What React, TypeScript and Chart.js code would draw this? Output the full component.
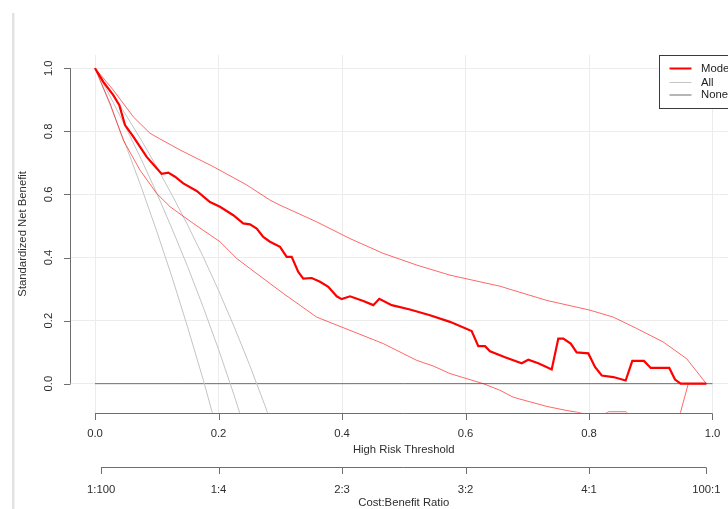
import React, { useEffect, useRef } from "react";
import { Chart, registerables } from "chart.js";

Chart.register(...registerables);

// ---- data ----
const modelX = [0, 0.0134, 0.0296, 0.0394, 0.0486, 0.062, 0.0837, 0.0999, 0.108, 0.1187, 0.1296, 0.143, 0.1647, 0.1862, 0.2024, 0.224, 0.24, 0.251, 0.2619, 0.2725, 0.2834, 0.2996, 0.3104, 0.3185, 0.3292, 0.3373, 0.351, 0.3644, 0.3778, 0.3914, 0.3995, 0.413, 0.4345, 0.4507, 0.4604, 0.4805, 0.51, 0.5425, 0.5749, 0.61, 0.6207, 0.6316, 0.6397, 0.664, 0.691, 0.7017, 0.7179, 0.7396, 0.7503, 0.7584, 0.7704, 0.78, 0.7989, 0.8097, 0.8206, 0.8393, 0.8594, 0.8701, 0.889, 0.9, 0.93, 0.9393, 0.9485, 0.99];
const modelY = [1, 0.957, 0.915, 0.883, 0.82, 0.783, 0.719, 0.683, 0.665, 0.669, 0.656, 0.635, 0.611, 0.576, 0.561, 0.534, 0.508, 0.505, 0.492, 0.465, 0.45, 0.434, 0.402, 0.402, 0.354, 0.333, 0.335, 0.323, 0.307, 0.277, 0.268, 0.277, 0.262, 0.249, 0.269, 0.249, 0.235, 0.217, 0.196, 0.167, 0.119, 0.119, 0.1025, 0.084, 0.065, 0.076, 0.065, 0.045, 0.143, 0.143, 0.127, 0.099, 0.096, 0.053, 0.026, 0.021, 0.01, 0.072, 0.072, 0.05, 0.05, 0.013, 0, 0];

const upperX = [0, 0.0296, 0.062, 0.089, 0.105, 0.1377, 0.1916, 0.2457, 0.2834, 0.2996, 0.359, 0.413, 0.4669, 0.521, 0.5749, 0.6235, 0.6559, 0.6774, 0.7315, 0.8016, 0.8393, 0.8773, 0.9203, 0.9582, 0.99];
const upperY = [1, 0.931, 0.846, 0.794, 0.776, 0.741, 0.688, 0.63, 0.582, 0.566, 0.513, 0.46, 0.413, 0.376, 0.344, 0.323, 0.309, 0.296, 0.264, 0.233, 0.211, 0.175, 0.132, 0.079, 0];

const lowerX = [0, 0.0243, 0.0458, 0.0729, 0.0999, 0.1215, 0.1592, 0.2024, 0.2295, 0.251, 0.305, 0.359, 0.413, 0.4669, 0.521, 0.5478, 0.5749, 0.6288, 0.6559, 0.6774, 0.7315, 0.7639, 0.7854, 0.81, 0.832, 0.86, 0.875, 0.94, 0.9608, 0.99];
const lowerY = [1, 0.889, 0.772, 0.677, 0.603, 0.561, 0.508, 0.45, 0.397, 0.365, 0.286, 0.211, 0.169, 0.127, 0.074, 0.056, 0.032, 0, -0.021, -0.043, -0.072, -0.085, -0.092, -0.11, -0.089, -0.089, -0.12, -0.15, 0, 0];

const allX = [0, 0.025, 0.05, 0.075, 0.1, 0.125, 0.15, 0.175, 0.2, 0.225, 0.25, 0.275, 0.3];
const allLowY = [1, 0.881, 0.755, 0.623, 0.483, 0.336, 0.179, 0.014, -0.163];
const allMidY = [1, 0.909, 0.812, 0.711, 0.604, 0.49, 0.371, 0.244, 0.109, -0.035, -0.189];
const allHighY = [1, 0.928, 0.852, 0.772, 0.687, 0.597, 0.503, 0.403, 0.296, 0.182, 0.061, -0.068, -0.207];

const noneX = [0, 1];
const noneY = [0, 0];

const xTicks = [0, 0.2, 0.4, 0.6, 0.8, 1.0];
const xTickLabels = ["0.0", "0.2", "0.4", "0.6", "0.8", "1.0"];
const yTicks = [0, 0.2, 0.4, 0.6, 0.8, 1.0];
const yTickLabels = ["0.0", "0.2", "0.4", "0.6", "0.8", "1.0"];
const costTicks = [0.0099, 0.2, 0.4, 0.6, 0.8, 0.99];
const costLabels = ["1:100", "1:4", "2:3", "3:2", "4:1", "100:1"];

const legendNames = ["Model", "All", "None"];

const RED = "#ff0000";
const RED_CI = "rgba(255,0,0,0.6)";
const GRAY_ALL = "#c4c4c4";
const GRAY_NONE = "#6e6e6e";
const AXIS = "#6e6e6e";
const TEXT = "#2e2e2e";
const FONT = '11.3px "Liberation Sans", Arial, sans-serif';

const pts = (xs: number[], ys: number[]) => ys.map((y, i) => ({ x: xs[i], y }));

const axesPlugin = {
  id: "rAxes",
  afterDraw(chart: any) {
    const ctx = chart.ctx as CanvasRenderingContext2D;
    const xs = chart.scales.x;
    const ys = chart.scales.y;
    const area = chart.chartArea;
    ctx.save();
    // frame strip on the left
    ctx.fillStyle = "#e3e3e3";
    ctx.fillRect(12, 13, 2.5, 509);

    ctx.strokeStyle = AXIS;
    ctx.lineWidth = 1;
    ctx.fillStyle = TEXT;
    ctx.font = FONT;

    // bottom x axis
    const yAx = Math.round(area.bottom) + 0.5;
    const x0 = xs.getPixelForValue(xTicks[0]);
    const x1 = xs.getPixelForValue(xTicks[xTicks.length - 1]);
    ctx.beginPath();
    ctx.moveTo(x0, yAx);
    ctx.lineTo(x1, yAx);
    xTicks.forEach((v) => {
      const px = Math.round(xs.getPixelForValue(v)) + 0.5;
      ctx.moveTo(px, yAx);
      ctx.lineTo(px, yAx + 6.5);
    });
    ctx.stroke();
    ctx.textAlign = "center";
    ctx.textBaseline = "middle";
    xTicks.forEach((v, i) => {
      ctx.fillText(xTickLabels[i], xs.getPixelForValue(v), yAx + 20.5);
    });
    const midX = (area.left + area.right) / 2;
    ctx.fillText("High Risk Threshold", midX, yAx + 36.5);

    // cost:benefit axis
    const yCb = yAx + 54;
    const c0 = xs.getPixelForValue(costTicks[0]);
    const c1 = xs.getPixelForValue(costTicks[costTicks.length - 1]);
    ctx.beginPath();
    ctx.moveTo(c0, yCb);
    ctx.lineTo(c1, yCb);
    costTicks.forEach((v) => {
      const px = Math.round(xs.getPixelForValue(v)) + 0.5;
      ctx.moveTo(px, yCb);
      ctx.lineTo(px, yCb + 6.5);
    });
    ctx.stroke();
    costTicks.forEach((v, i) => {
      ctx.fillText(costLabels[i], xs.getPixelForValue(v), yCb + 22);
    });
    ctx.fillText("Cost:Benefit Ratio", midX, yCb + 35.5);

    // y axis
    const xAx = Math.round(area.left) + 0.5;
    const yTop = ys.getPixelForValue(yTicks[yTicks.length - 1]);
    const yBot = ys.getPixelForValue(yTicks[0]);
    ctx.beginPath();
    ctx.moveTo(xAx, yTop);
    ctx.lineTo(xAx, yBot);
    yTicks.forEach((v) => {
      const py = Math.round(ys.getPixelForValue(v)) + 0.5;
      ctx.moveTo(xAx, py);
      ctx.lineTo(xAx - 6.5, py);
    });
    ctx.stroke();
    yTicks.forEach((v, i) => {
      ctx.save();
      ctx.translate(xAx - 21.5, ys.getPixelForValue(v));
      ctx.rotate(-Math.PI / 2);
      ctx.fillText(yTickLabels[i], 0, 0);
      ctx.restore();
    });
    ctx.save();
    ctx.translate(22.5, (area.top + area.bottom) / 2);
    ctx.rotate(-Math.PI / 2);
    ctx.fillText("Standardized Net Benefit", 0, 0);
    ctx.restore();

    // legend
    const lx = 659.5;
    const ly = Math.round(area.top) + 0.5;
    ctx.fillStyle = "#ffffff";
    ctx.fillRect(lx, ly, 120, 53);
    ctx.strokeStyle = "#3a3a3a";
    ctx.strokeRect(lx, ly, 120, 53);
    const rows = [
      { c: RED, w: 2, y: ly + 13 },
      { c: GRAY_ALL, w: 1, y: ly + 27 },
      { c: GRAY_NONE, w: 1, y: ly + 39.5 },
    ];
    rows.forEach((r, i) => {
      ctx.strokeStyle = r.c;
      ctx.lineWidth = r.w;
      ctx.beginPath();
      ctx.moveTo(lx + 10, r.y);
      ctx.lineTo(lx + 32, r.y);
      ctx.stroke();
      ctx.fillStyle = "#1e1e1e";
      ctx.textAlign = "left";
      ctx.fillText(legendNames[i], lx + 41.5, r.y);
    });
    ctx.restore();
  },
};

export default function App() {
  const ref = useRef<HTMLCanvasElement | null>(null);
  useEffect(() => {
    if (!ref.current) return;
    const line = (data: any[], color: string, width: number) => ({
      data,
      borderColor: color,
      borderWidth: width,
      pointRadius: 0,
      tension: 0,
      fill: false,
    });
    const chart = new Chart(ref.current, {
      type: "line",
      data: {
        datasets: [
          line(pts(noneX, noneY), GRAY_NONE, 1),
          line(pts(allX, allLowY), GRAY_ALL, 1),
          line(pts(allX, allMidY), GRAY_ALL, 1),
          line(pts(allX, allHighY), GRAY_ALL, 1),
          line(pts(upperX, upperY), RED_CI, 1),
          line(pts(lowerX, lowerY), RED_CI, 1),
          line(pts(modelX, modelY), RED, 2.2),
        ].reverse().map((d, i) => ({ ...d, order: i })),
      },
      options: {
        animation: false,
        responsive: false,
        devicePixelRatio: 1,
        layout: { padding: { left: 70.3, right: 2.8, top: 55, bottom: 96.3 } },
        plugins: { legend: { display: false }, tooltip: { enabled: false } },
        scales: {
          x: {
            type: "linear",
            min: -0.04,
            max: 1.04,
            afterBuildTicks: (s: any) => {
              s.ticks = xTicks.map((v) => ({ value: v }));
            },
            ticks: { display: false },
            grid: { color: "#ececec", lineWidth: 1, drawTicks: false },
            border: { display: false },
          },
          y: {
            type: "linear",
            min: -0.092,
            max: 1.042,
            afterBuildTicks: (s: any) => {
              s.ticks = yTicks.map((v) => ({ value: v }));
            },
            ticks: { display: false },
            grid: { color: "#ececec", lineWidth: 1, drawTicks: false },
            border: { display: false },
          },
        },
      },
      plugins: [axesPlugin],
    });
    return () => chart.destroy();
  }, []);
  return (
    <div
      style={{
        position: "fixed",
        left: 0,
        top: 0,
        width: 728,
        height: 509,
        overflow: "hidden",
        background: "#fff",
      }}
    >
      <canvas ref={ref} width={740} height={509} style={{ width: 740, height: 509, display: "block" }} />
    </div>
  );
}
